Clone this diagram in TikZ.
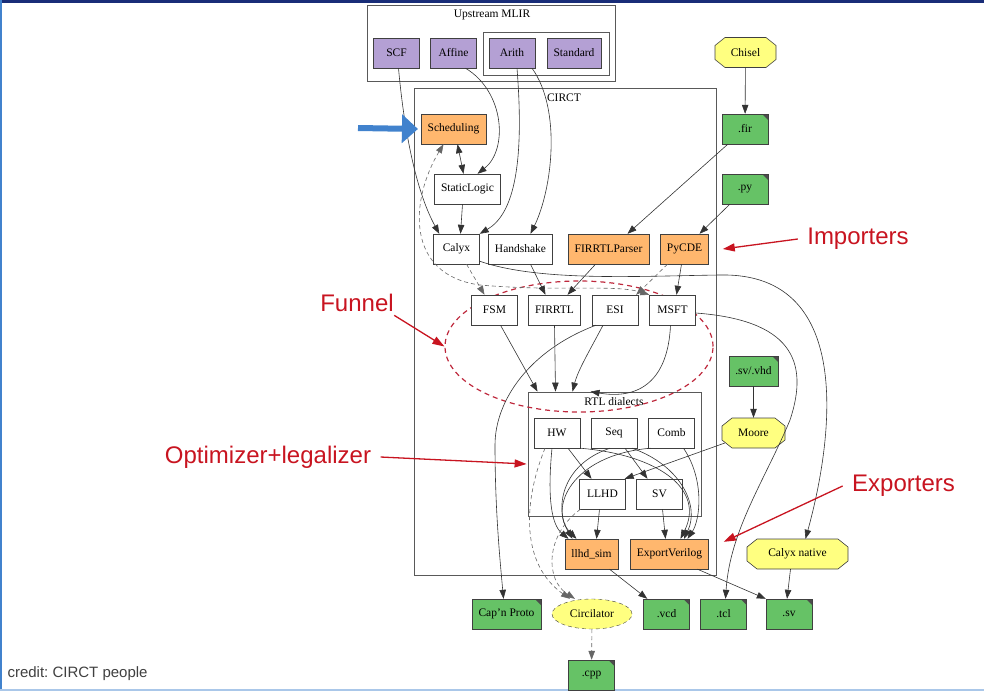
\documentclass[tikz,border=0pt]{standalone}
\usepackage{fontspec}
\setmainfont{Liberation Serif}
\newfontfamily\annofont{Liberation Sans}
\usetikzlibrary{shapes.geometric,arrows.meta}

\definecolor{mlirpurple}{RGB}{180,160,212}
\definecolor{passorange}{RGB}{255,183,110}
\definecolor{filegreen}{RGB}{102,194,102}
\definecolor{toolyellow}{RGB}{255,255,128}
\definecolor{annored}{RGB}{200,20,32}
\definecolor{funnelred}{RGB}{190,40,60}
\definecolor{slideblue}{RGB}{65,130,205}
\definecolor{framenavy}{RGB}{25,45,120}

% octagon tool node: name, x, y, half width, text
\newcommand{\octanode}[5]{%
  \filldraw[toolshape] (#2-#4,#3-7) -- (#2-#4+10,#3-15) -- (#2+#4-10,#3-15) -- (#2+#4,#3-7)
    -- (#2+#4,#3+7) -- (#2+#4-10,#3+15) -- (#2-#4+10,#3+15) -- (#2-#4,#3+7) -- cycle;
  \node[minimum width=2*#4 pt, minimum height=30pt] (#1) at (#2,#3) {#5};}

\begin{document}
\begin{tikzpicture}[x=1pt,y=-1pt,
    every node/.style={font=\fontsize{11.5}{13}\selectfont},
    dialect/.style={rectangle, draw=black!75, fill=white, minimum width=46pt,
      minimum height=30pt, inner xsep=6.5pt},
    upstream/.style={dialect, fill=mlirpurple},
    passbox/.style={dialect, fill=passorange},
    filebox/.style={dialect, fill=filegreen, path picture={
        \fill[black!70] ([xshift=-6pt]path picture bounding box.north east)
          -- (path picture bounding box.north east)
          -- ([yshift=-6pt]path picture bounding box.north east) -- cycle;}},
    toolshape/.style={draw=black!75, fill=toolyellow, line width=0.6pt},
    clusterbox/.style={rectangle, draw=black!65, line width=0.8pt},
    flow/.style={draw=black!80, line width=0.6pt, -{Triangle[length=9pt,width=6.5pt]}},
    softflow/.style={flow, draw=black!60, dash pattern=on 4pt off 3pt},
    anno/.style={text=annored, font=\annofont\fontsize{24}{28}\selectfont},
    annoarrow/.style={draw=annored, line width=1.3pt, -{Triangle[length=12pt,width=8pt]}},
  ]
  \useasboundingbox (0,0) rectangle (984,691);

  % draw slide frame
  \fill[framenavy] (0,0) rectangle (984,3);
  \fill[slideblue] (0,0) rectangle (2,691);
  \fill[slideblue!45] (0,689) rectangle (984,691);

  % draw clusters
  \node[clusterbox, minimum width=248pt, minimum height=76pt] (upstream) at (491,43) {};
  \node[clusterbox, minimum width=126pt, minimum height=43pt] (arithgroup) at (546,53.5) {};
  \node[clusterbox, minimum width=302pt, minimum height=487pt] (circt) at (565,331.5) {};
  \node[clusterbox, minimum width=173pt, minimum height=124pt] (rtl) at (614.5,454) {};
  \node (upstreamlabel) at (492,15) {Upstream MLIR};
  \node (circtlabel) at (564,98) {CIRCT};
  \node (rtllabel) at (614,402) {RTL dialects};

  % draw funnel
  \node[ellipse, draw=funnelred, line width=1.2pt, dash pattern=on 5pt off 4pt,
    minimum width=268pt, minimum height=131pt] (funnel) at (579,346.5) {};

  % draw nodes
  \foreach \n/\x in {SCF/396.5, Affine/453.5, Arith/512, Standard/574}
    \node[upstream] (\n) at (\x,53) {\n};
  \foreach \n/\x/\y in {StaticLogic/467.5/189, Calyx/456.5/249, Handshake/520.5/249,
      FSM/494.5/310, FIRRTL/554.5/310, ESI/615/310, MSFT/672.5/310,
      HW/557/433, Seq/614/433, Comb/671.5/433, LLHD/602.5/494, SV/659.5/494}
    \node[dialect] (\n) at (\x,\y) {\n};
  \foreach \n/\x/\y in {Scheduling/453.5/129, FIRRTLParser/608.5/249,
      PyCDE/684.5/249, ExportVerilog/669.5/554}
    \node[passbox] (\n) at (\x,\y) {\n};
  \node[passbox] (llhdsim) at (591.5,554) {llhd\_sim};
  \foreach \n/\x/\y/\t in {fir/745/129/.fir, py/745/189/.py,
      capnproto/506.5/614/Cap'n Proto, vcd/666.5/614/.vcd, tcl/723.5/614/.tcl,
      sv/789/614/.sv, cpp/591.5/675/.cpp}
    \node[filebox] (\n) at (\x,\y) {\t};
  \node[filebox] (svvhd) at (753.5,371) {.sv/.vhd};
  \octanode{Chisel}{745.5}{52.5}{30.5}{Chisel}
  \octanode{Moore}{753.5}{433}{31.5}{Moore}
  \octanode{calyxnative}{797.5}{554}{50.5}{Calyx native}
  \node[ellipse, draw=black!75, dash pattern=on 4pt off 3pt, fill=toolyellow,
    minimum width=80pt, minimum height=30pt, inner sep=1pt] (circilator) at (592,614) {Circilator};

  % draw edges from upstream
  \draw[flow] ([xshift=2pt]SCF.south) .. controls (405,140) and (418,195) .. ([xshift=6pt]Calyx.north west);
  \draw[flow] ([xshift=12pt]Affine.south) .. controls (505,92) and (508,150) .. ([xshift=10pt]StaticLogic.north);
  \draw[flow] ([xshift=5pt]Arith.south) .. controls (525,170) and (512,215) .. (Calyx.north east);
  \draw[flow] ([xshift=20pt]Arith.south) .. controls (562,110) and (552,190) .. ([xshift=10pt]Handshake.north);

  % draw edges inside CIRCT
  \draw[flow, {Triangle[length=9pt,width=6.5pt]}-{Triangle[length=9pt,width=6.5pt]}]
    ([xshift=4pt]Scheduling.south) -- ([xshift=-4pt]StaticLogic.north);
  \draw[flow] ([xshift=-5pt]StaticLogic.south) -- ([xshift=4pt]Calyx.north);
  \draw[softflow, {Triangle[length=9pt,width=6.5pt]}-{Triangle[length=9pt,width=6.5pt]}]
    ([xshift=-10pt]Scheduling.south) .. controls (410,200) and (405,275) .. (480,285)
    .. controls (560,292) and (615,284) .. (MSFT.north west);
  \draw[softflow] ([xshift=10pt]Calyx.south) -- ([xshift=-10pt]FSM.north);
  \draw[flow] ([yshift=3pt]Calyx.south east) .. controls (540,282) and (640,276) .. (720,275)
    .. controls (860,272) and (830,450) .. ([xshift=8pt]calyxnative.north);
  \draw[flow] ([xshift=10pt]Handshake.south) -- ([xshift=-9pt]FIRRTL.north);
  \draw[flow] ([xshift=-13pt]FIRRTLParser.south) -- ([xshift=13pt]FIRRTL.north);
  \draw[softflow] ([xshift=-17pt]PyCDE.south) -- ([xshift=-2pt]ESI.north east);
  \draw[flow] ([xshift=-3pt]PyCDE.south) -- ([xshift=4pt]MSFT.north);

  % draw importers
  \draw[flow] (Chisel) -- (fir);
  \draw[flow] ([xshift=6pt]fir.south west) -- ([xshift=19pt]FIRRTLParser.north);
  \draw[flow] ([xshift=8pt]py.south west) -- ([xshift=15pt]PyCDE.north);
  \draw[flow] (svvhd) -- (Moore);

  % draw funnel into RTL dialects
  \draw[flow] ([xshift=6pt]FSM.south) -- ([xshift=-77pt]rtl.north);
  \draw[flow] (FIRRTL.south) -- ([xshift=-59pt]rtl.north);
  \draw[flow] ([xshift=-12pt]ESI.south) .. controls (590,350) and (578,370) .. ([xshift=-42pt]rtl.north);
  \draw[flow] ([xshift=-2pt]MSFT.south) .. controls (668,380) and (640,400) .. ([xshift=-24pt]rtl.north);
  \draw[flow] ([xshift=-19pt]ESI.south) .. controls (530,350) and (495,400) .. (495,445)
    .. controls (495,510) and (500,560) .. ([xshift=-3pt]capnproto.north);
  \draw[flow] ([yshift=-3pt]MSFT.east) .. controls (790,320) and (810,360) .. (790,420)
    .. controls (765,480) and (730,530) .. ([xshift=2pt]tcl.north);

  % draw RTL dialects
  \draw[flow] ([xshift=11pt]HW.south) -- ([xshift=-11pt]LLHD.north);
  \draw[flow] ([xshift=11pt]Seq.south) -- ([xshift=-12pt]SV.north);
  \draw[flow] ([xshift=3pt,yshift=-10pt]Moore.west) -- ([xshift=-1pt]LLHD.north east);
  \draw[flow] ([xshift=-3pt]LLHD.south) -- ([xshift=5pt]llhdsim.north);
  \draw[flow] ([xshift=3pt]SV.south) -- ([xshift=-4pt]ExportVerilog.north);
  \draw[flow] ([xshift=-5pt]HW.south) .. controls (547,500) and (552,525) .. ([xshift=-23pt]llhdsim.north);
  \draw[flow] ([xshift=-4pt]Seq.south) .. controls (560,465) and (555,510) .. ([xshift=-19pt]llhdsim.north);
  \draw[flow] ([xshift=-21pt]Comb.south) .. controls (570,455) and (548,510) .. ([xshift=-15pt]llhdsim.north);
  \draw[flow] (HW.south east) .. controls (660,455) and (705,490) .. ([xshift=11pt]ExportVerilog.north);
  \draw[flow] ([xshift=18pt]Seq.south) .. controls (680,465) and (700,505) .. ([xshift=14.5pt]ExportVerilog.north);
  \draw[flow] ([xshift=12pt]Comb.south) .. controls (705,480) and (700,520) .. ([xshift=18pt]ExportVerilog.north);
  \draw[softflow] ([xshift=-12pt]HW.south) .. controls (522,505) and (522,565) .. ([xshift=-22pt]circilator.north);
  \draw[softflow] ([xshift=-22pt]LLHD.south) .. controls (545,535) and (545,580) .. ([xshift=-17pt]circilator.north);

  % draw exporters
  \draw[softflow] (circilator) -- (cpp);
  \draw[flow] ([xshift=18pt]llhdsim.south) -- ([xshift=4pt]vcd.north west);
  \draw[flow] ([xshift=28pt]ExportVerilog.south) -- (sv.north west);
  \draw[flow] ([xshift=-7pt]calyxnative.south) -- ([xshift=-2pt]sv.north);

  % draw blue pointer
  \coordinate (bluetail) at (358,128);
  \draw[slideblue, line width=6pt, -{Triangle[length=16pt,width=28pt]}]
    (bluetail) -- ([xshift=-3pt]Scheduling.west);

  % draw annotations
  \node[anno] (importers) at (858,239) {Importers};
  \draw[annoarrow] ([xshift=-6pt]importers.west) -- ([xshift=14pt]PyCDE.east);
  \node[anno] (funnellabel) at (357,303) {Funnel};
  \draw[annoarrow] ([xshift=-3pt]funnellabel.south east) -- (funnel.west);
  \node[anno] (optlabel) at (268,457) {Optimizer+legalizer};
  \draw[annoarrow] ([xshift=6pt]optlabel.east) -- ([xshift=-1pt,yshift=-10pt]rtl.west);
  \node[anno] (exporters) at (903.5,486) {Exporters};
  \draw[annoarrow] ([xshift=-6pt]exporters.west) -- ([xshift=15pt,yshift=-3pt]ExportVerilog.north east);
  \node[anchor=west, text=black!75, font=\annofont\fontsize{15}{18}\selectfont] (credit) at (4,674) {\frenchspacing credit: CIRCT people};
\end{tikzpicture}
\end{document}
